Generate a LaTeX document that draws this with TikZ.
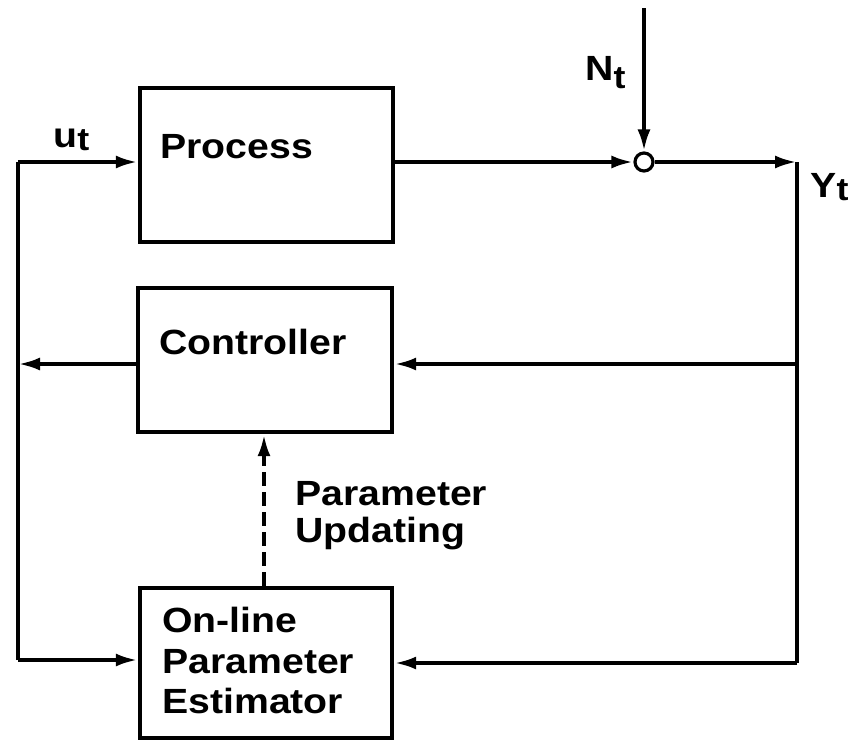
\documentclass[tikz,border=0pt]{standalone}
\usepackage{fontspec}
\newfontfamily\diagfont[FakeStretch=1.12]{Liberation Sans}
\usetikzlibrary{arrows.meta}
\newcommand{\subt}[1][2pt]{\raisebox{-#1}{\fontsize{16}{16}\selectfont t}}
\begin{document}
\begin{tikzpicture}[x=0.5pt,y=-0.5pt,
  lbl/.style={font=\diagfont\bfseries\fontsize{17.5}{20}\selectfont, inner sep=0pt, anchor=base west},
  box/.style={draw, line width=2.2pt, rectangle, inner sep=0pt},
  sig/.style={line width=2pt},
  arr/.style={sig, -{Latex[length=11pt,width=6.5pt]}},
  darr/.style={arr, dash pattern=on 7pt off 3pt}]
\useasboundingbox (0,0) rectangle (856,740);
% blocks
\node[box, minimum width=126.5pt, minimum height=77pt] (proc) at (266.5,165) {};
\node[box, minimum width=127pt, minimum height=72pt] (ctrl) at (265,360) {};
\node[box, minimum width=126pt, minimum height=75pt] (est) at (266,663) {};
\node[draw, circle, line width=1.6pt, minimum size=9pt, inner sep=0pt, fill=white] (sum) at (644,162) {};
% texts
\node[lbl] (tproc) at (160,158) {Process};
\node[lbl] (tctrl) at (159,354) {Controller};
\node[lbl] (test1) at (162,632) {On-line};
\node[lbl] (test2) at (162,673) {Parameter};
\node[lbl] (test3) at (162,713) {Estimator};
\node[lbl] (tupd1) at (295,505) {Parameter};
\node[lbl] (tupd2) at (295,542) {Updating};
\node[lbl] (tu) at (53,147) {u\subt[1.5pt]};
\node[lbl] (tn) at (585,80) {N\subt[4pt]};
\node[lbl] (ty) at (810,197) {Y\subt[1.5pt]};
% coordinates
\coordinate (lt) at (18,162);
\coordinate (lb) at (18,660);
\coordinate (rt) at (797,162);
\coordinate (rb) at (797,663);
\coordinate (ntop) at (644,8);
\coordinate (rmid) at (797,364);
\coordinate (lmid) at (18,364);
% connectors
\draw[sig] (lb) -- (lt);
\draw[arr] (lt) -- (lt -| proc.west);
\draw[arr] (proc.east |- sum) -- (sum.west);
\draw[arr] (sum.east) -- (rt);
\draw[sig] (rt) -- (rb);
\draw[arr] (ntop) -- (sum.north);
\draw[arr] (rmid) -- (rmid -| ctrl.east);
\draw[arr] (lmid -| ctrl.west) -- (lmid);
\draw[arr] (lb) -- (lb -| est.west);
\draw[arr] (rb) -- (rb -| est.east);
\draw[darr] (est.north -| 264,0) -- (ctrl.south -| 264,0);
\end{tikzpicture}
\end{document}
